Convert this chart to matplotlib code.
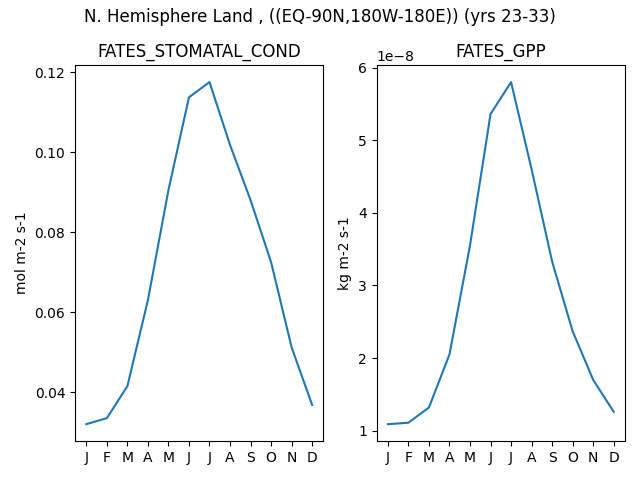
import matplotlib
matplotlib.use("Agg")
import matplotlib.pyplot as plt

months = ["J", "F", "M", "A", "M", "J", "J", "A", "S", "O", "N", "D"]
stomatal_cond = [0.0320, 0.0335, 0.0415, 0.0630, 0.0905, 0.1137, 0.1175, 0.1018, 0.0880, 0.0725, 0.0512, 0.0368]
gpp = [1.09e-8, 1.11e-8, 1.32e-8, 2.05e-8, 3.55e-8, 5.36e-8, 5.80e-8, 4.60e-8, 3.33e-8, 2.37e-8, 1.70e-8, 1.26e-8]

fig, axes = plt.subplots(1, 2, figsize=(6.4, 4.8), dpi=100)
x = list(range(len(months)))

axes[0].plot(x, stomatal_cond)
axes[0].set_title("FATES_STOMATAL_COND")
axes[0].set_ylabel("mol m-2 s-1")
axes[0].set_xticks(x)
axes[0].set_xticklabels(months)

axes[1].plot(x, gpp)
axes[1].set_title("FATES_GPP")
axes[1].set_ylabel("kg m-2 s-1")
axes[1].set_xticks(x)
axes[1].set_xticklabels(months)

fig.suptitle("N. Hemisphere Land , ((EQ-90N,180W-180E)) (yrs 23-33)", y=0.984)
fig.tight_layout()
fig.subplots_adjust(top=1 - 65 / 480)
fig.savefig("out.png")
